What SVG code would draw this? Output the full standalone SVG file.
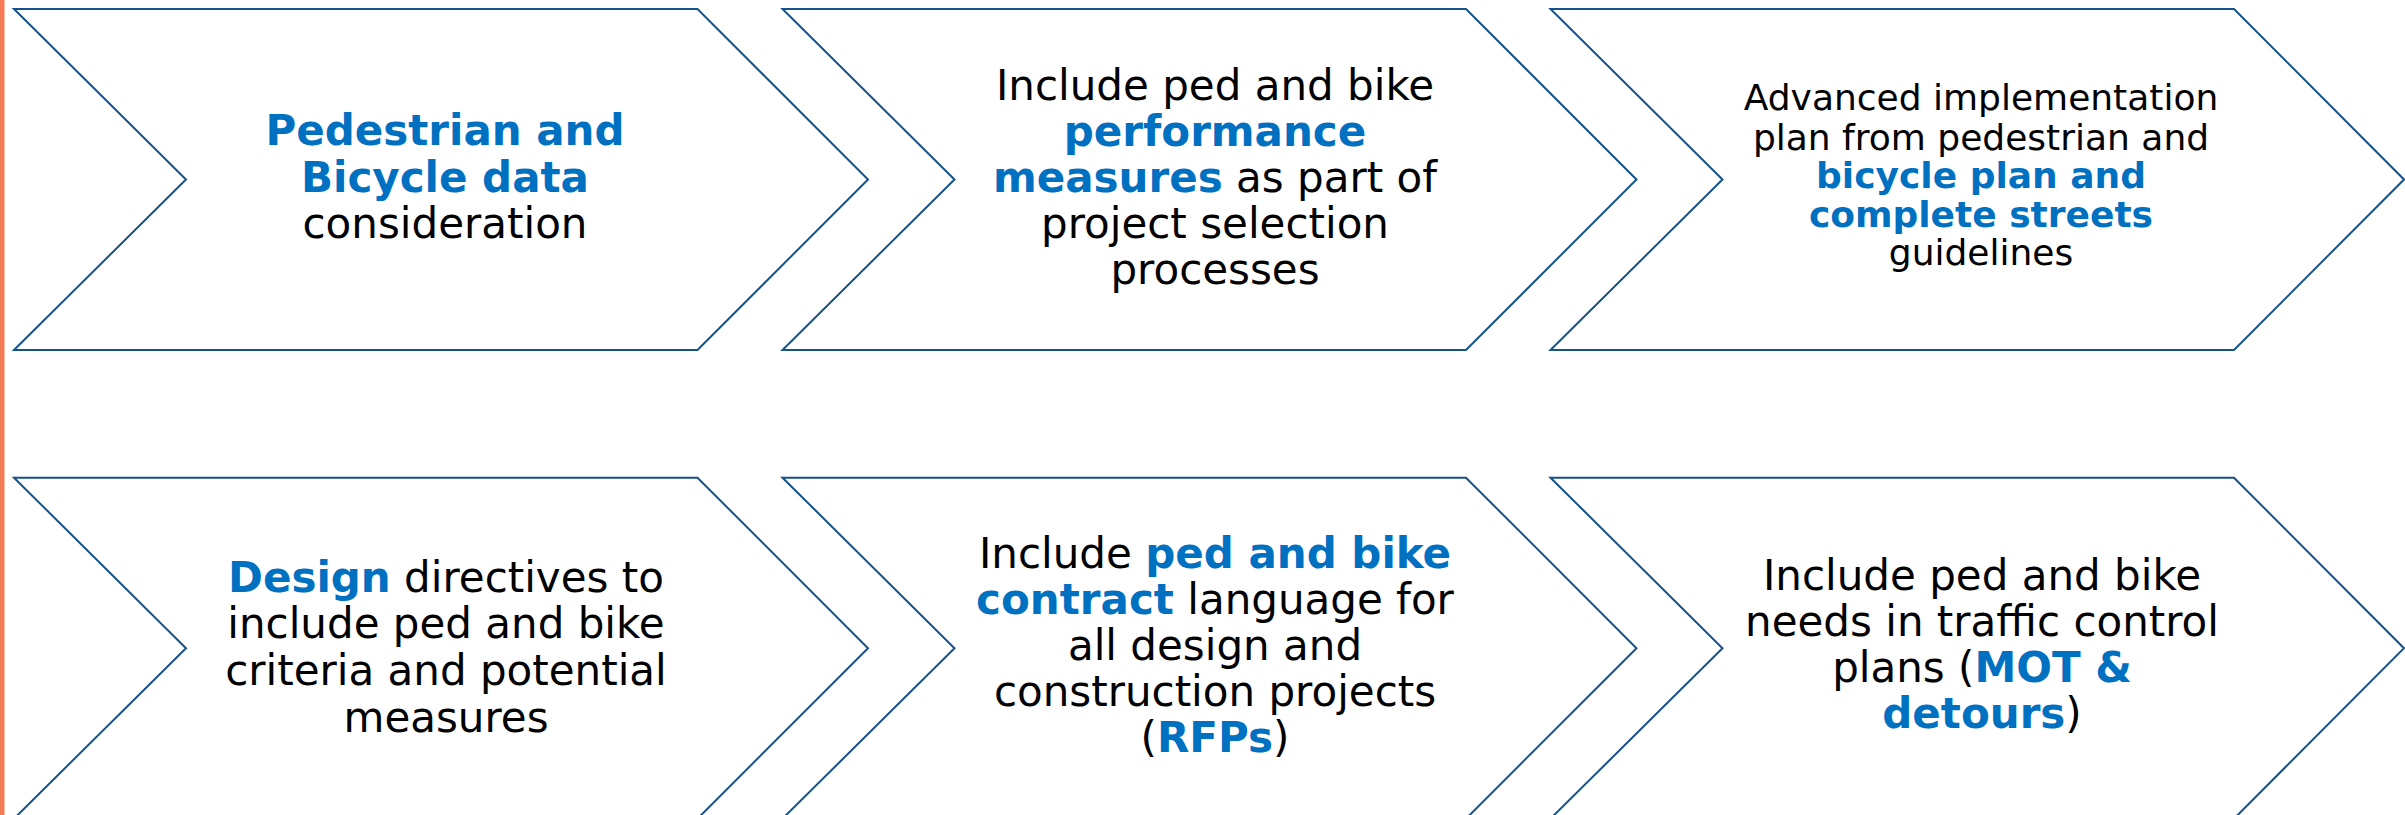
<svg xmlns="http://www.w3.org/2000/svg" width="2405" height="815" viewBox="0 0 2405 815">
<style>
.chev{fill:#ffffff;stroke:#15528A;stroke-width:2;stroke-linejoin:miter}
.t{font-family:"DejaVu Sans","Verdana",sans-serif;font-size:42px;fill:#000000;text-anchor:middle}
.s{font-size:36px}
.b{font-weight:bold;fill:#0070C0}
</style>
<rect x="0" y="0" width="4.5" height="815" fill="#F47B55"/>
<g id="connectors"></g>
<g id="node1">
<polygon class="chev" points="14,9 697.5,9 868,179.5 697.5,350 14,350 186,179.5"/>
<text class="t" x="445" y="145"><tspan class="b">Pedestrian and</tspan></text>
<text class="t" x="445" y="191.7"><tspan class="b">Bicycle data</tspan></text>
<text class="t" x="445" y="238.3">consideration</text>
</g>
<g id="node2">
<polygon class="chev" points="782.5,9 1466,9 1636.5,179.5 1466,350 782.5,350 954.5,179.5"/>
<text class="t" x="1215" y="100">Include ped and bike</text>
<text class="t" x="1215" y="146"><tspan class="b">performance</tspan></text>
<text class="t" x="1215" y="192"><tspan class="b">measures</tspan> as part of</text>
<text class="t" x="1215" y="238">project selection</text>
<text class="t" x="1215" y="284">processes</text>
</g>
<g id="node3">
<polygon class="chev" points="1550.5,9 2234,9 2404,179.5 2234,350 1550.5,350 1722.5,179.5"/>
<text class="t s" x="1981" y="110">Advanced implementation</text>
<text class="t s" x="1981" y="149.5">plan from pedestrian and</text>
<text class="t s" x="1981" y="188"><tspan class="b">bicycle plan and</tspan></text>
<text class="t s" x="1981" y="226.5"><tspan class="b">complete streets</tspan></text>
<text class="t s" x="1981" y="265">guidelines</text>
</g>
<g id="node4">
<polygon class="chev" points="14,477.7 697.5,477.7 868,648.2 697.5,818.7 14,818.7 186,648.2"/>
<text class="t" x="446" y="591.7"><tspan class="b">Design</tspan> directives to</text>
<text class="t" x="446" y="638.3">include ped and bike</text>
<text class="t" x="446" y="685">criteria and potential</text>
<text class="t" x="446" y="731.7">measures</text>
</g>
<g id="node5">
<polygon class="chev" points="782.5,477.7 1466,477.7 1636.5,648.2 1466,818.7 782.5,818.7 954.5,648.2"/>
<text class="t" x="1215" y="568">Include <tspan class="b">ped and bike</tspan></text>
<text class="t" x="1215" y="614"><tspan class="b">contract</tspan> language for</text>
<text class="t" x="1215" y="660">all design and</text>
<text class="t" x="1215" y="706">construction projects</text>
<text class="t" x="1215" y="752">(<tspan class="b">RFPs</tspan>)</text>
</g>
<g id="node6">
<polygon class="chev" points="1550.5,477.7 2234,477.7 2404,648.2 2234,818.7 1550.5,818.7 1722.5,648.2"/>
<text class="t" x="1982" y="590">Include ped and bike</text>
<text class="t" x="1982" y="636">needs in traffic control</text>
<text class="t" x="1982" y="682">plans (<tspan class="b">MOT &amp;</tspan></text>
<text class="t" x="1982" y="728"><tspan class="b">detours</tspan>)</text>
</g>
</svg>
